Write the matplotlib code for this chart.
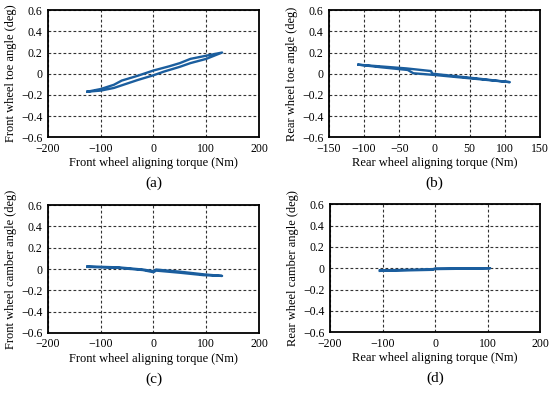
import matplotlib.pyplot as plt
import numpy as np

plt.rcParams['font.family'] = ['Liberation Serif', 'DejaVu Serif']

# (a) front wheel toe angle loop
a_x = [-125, -100, -75, -60, -30, 0, 30, 50, 70, 100, 130,
       100, 70, 50, 20, 0, -30, -60, -75, -100, -125]
a_y = [-0.17, -0.145, -0.105, -0.065, -0.02, 0.03, 0.07, 0.10, 0.14, 0.17, 0.20,
       0.14, 0.10, 0.065, 0.02, -0.015, -0.06, -0.11, -0.135, -0.16, -0.17]

# (b) rear wheel toe angle loop
b_x = [-108, -75, -40, -5, -3, 25, 60, 107,
       60, 25, 0, -30, -38, -75, -108]
b_y = [0.085, 0.068, 0.05, 0.025, 0.0, -0.02, -0.045, -0.08,
       -0.05, -0.028, -0.012, 0.004, 0.035, 0.06, 0.085]

# (c) front wheel camber angle
c_x = [-125, -65, -20, 0, 5, 50, 95, 130,
       95, 50, 5, 0, -20, -65, -125]
c_y = [0.025, 0.015, -0.005, -0.02, -0.005, -0.025, -0.05, -0.065,
       -0.058, -0.035, -0.015, -0.03, -0.01, 0.01, 0.02]

# (d) rear wheel camber angle
d_x = [-105, -50, -5, 0, 50, 105, 50, 0, -5, -50, -105]
d_y = [-0.02, -0.015, -0.01, -0.003, -0.002, 0.0, -0.005, -0.008, -0.015, -0.02, -0.025]

panels = [
    (a_x, a_y, [-200, 200], [-200, -100, 0, 100, 200],
     'Front wheel aligning torque (Nm)', 'Front wheel toe angle (deg)', '(a)'),
    (b_x, b_y, [-150, 150], [-150, -100, -50, 0, 50, 100, 150],
     'Rear wheel aligning torque (Nm)', 'Rear wheel toe angle (deg)', '(b)'),
    (c_x, c_y, [-200, 200], [-200, -100, 0, 100, 200],
     'Front wheel aligning torque (Nm)', 'Front wheel camber angle (deg)', '(c)'),
    (d_x, d_y, [-200, 200], [-200, -100, 0, 100, 200],
     'Rear wheel aligning torque (Nm)', 'Rear wheel camber angle (deg)', '(d)'),
]
rects = [
    [0.087, 0.651, 0.384, 0.323],
    [0.598, 0.651, 0.384, 0.323],
    [0.087, 0.153, 0.384, 0.325],
    [0.600, 0.155, 0.382, 0.325],
]
yticks = [-0.6, -0.4, -0.2, 0, 0.2, 0.4, 0.6]
ylabels = ['\u22120.6', '\u22120.4', '\u22120.2', '0', '0.2', '0.4', '0.6']

fig = plt.figure(figsize=(5.5, 3.93), dpi=100)
for (x, y, xlim, xt, xl, yl, tag), r in zip(panels, rects):
    ax = fig.add_axes(r)
    ax.plot(x, y, color='#1b5e9e', lw=1.7)
    ax.set_xlim(xlim)
    ax.set_ylim(-0.6, 0.6)
    ax.set_xticks(xt)
    ax.set_xticklabels([str(v).replace('-', '\u2212') for v in xt])
    ax.set_yticks(yticks)
    ax.set_yticklabels(ylabels)
    ax.grid(True, color='#333333', ls=(0, (2.5, 2)), lw=0.8)
    ax.tick_params(length=0, labelsize=8.5, pad=4)
    for s in ax.spines.values():
        s.set_linewidth(1.3)
    ax.set_xlabel(xl, fontsize=9, labelpad=2)
    ax.set_ylabel(yl, fontsize=9, labelpad=3)
    fig.text(r[0] + r[2] / 2, r[1] - 0.117, tag, ha='center', va='center', fontsize=11)

fig.savefig('out.png', dpi=100)
